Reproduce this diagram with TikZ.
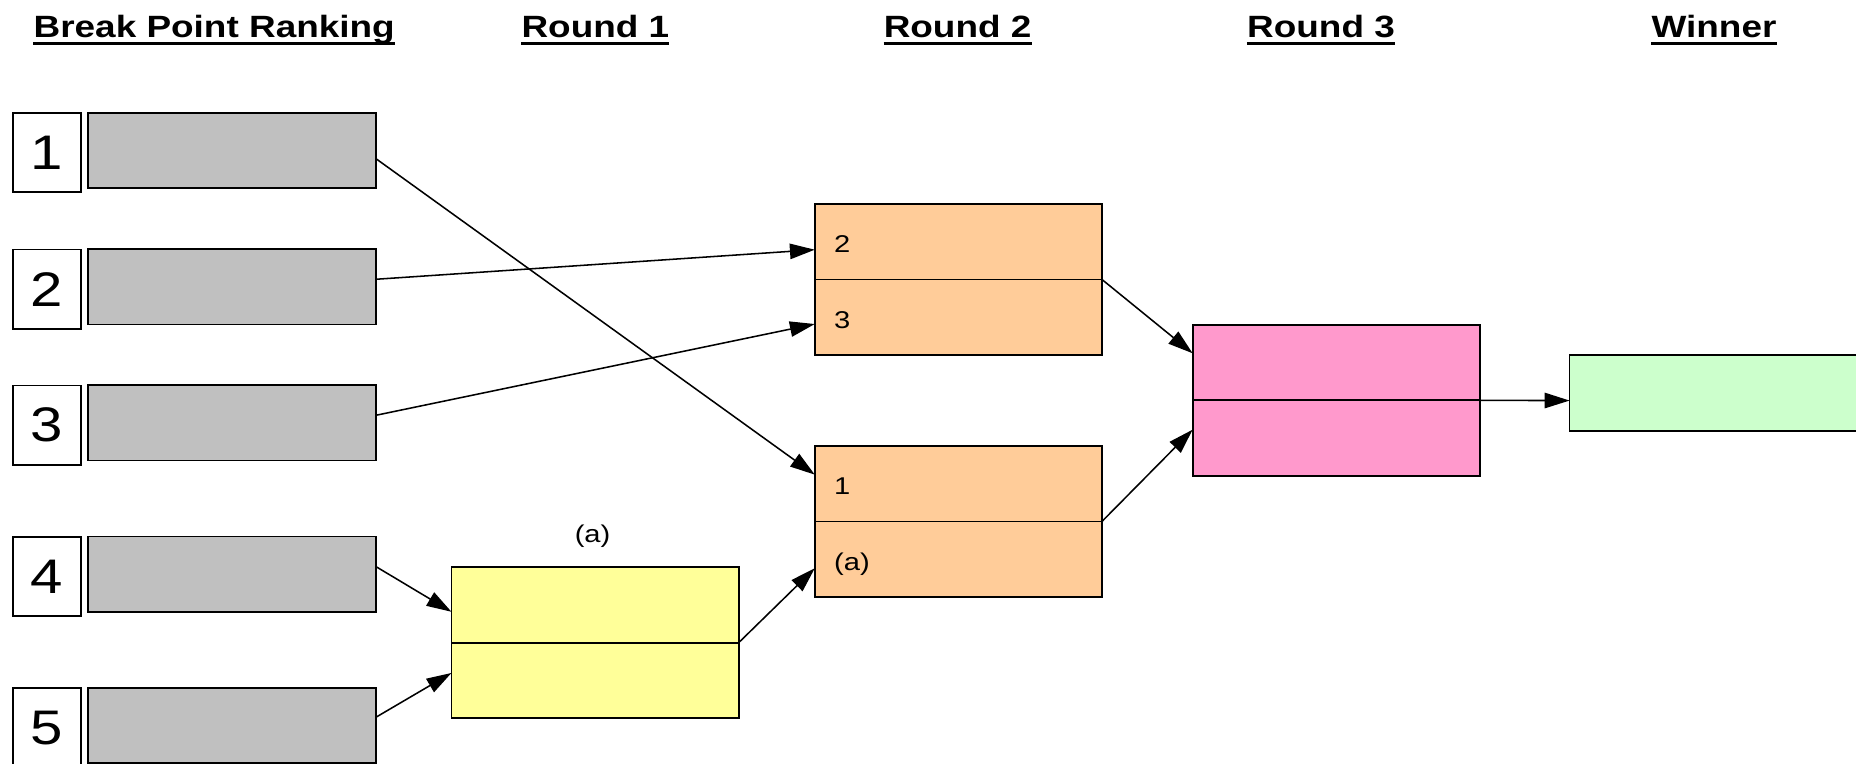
\documentclass[tikz,border=0pt]{standalone}
\usepackage{fontspec}
\setmainfont{Liberation Sans}[FakeStretch=1.2]
\usetikzlibrary{arrows.meta,calc}
\definecolor{grayfill}{HTML}{C0C0C0}
\definecolor{yellowfill}{HTML}{FFFF99}
\definecolor{orangefill}{HTML}{FFCC99}
\definecolor{pinkfill}{HTML}{FF99CC}
\definecolor{greenfill}{HTML}{CCFFCC}
\begin{document}
\begin{tikzpicture}[x=1pt,y=-1pt,
  box/.style={draw=black, line width=1.5pt, inner sep=0pt, outer sep=0pt, rectangle},
  graybox/.style={box, fill=grayfill, minimum width=243.1pt, minimum height=63.8pt},
  numbox/.style={box, fill=white, minimum width=57.7pt, minimum height=67pt, font=\fontsize{41}{45}\selectfont},
  pairbox/.style={box, minimum width=242.6pt, minimum height=127.6pt},
  title/.style={inner sep=0pt, anchor=base, font=\fontsize{26}{30}\selectfont\bfseries},
  slot/.style={inner sep=0pt, anchor=base west, font=\fontsize{20.5}{24}\selectfont},
  arrow/.style={-{Triangle[length=21pt,width=13pt]}, line width=1.3pt},
  uline/.style={line width=3pt}
]
\useasboundingbox (0,0) rectangle (1568,645.4);

% titles
\node[title] (t0) at (181,31.5) {Break Point Ranking};
\node[title] (t1) at (503,31.5) {Round 1};
\node[title] (t2) at (809,31.5) {Round 2};
\node[title] (t3) at (1116,31.5) {Round 3};
\node[title] (t4) at (1448,31.5) {Winner};
\foreach \t in {t0,t1,t2,t3,t4}
  \draw[uline] ($(\t.base west)+(0,5.4)$) -- ($(\t.base east)+(0,5.4)$);

% ranking rows
\foreach \i/\nc/\gc in {1/129/127.1, 2/244.2/242.3, 3/359.1/357.2, 4/487/485.1, 5/614.8/612.9}{
  \node[numbox] (n\i) at (39.55,\nc) {\i};
  \node[graybox] (g\i) at (196.15,\gc) {};
}

% round boxes
\node[pairbox, fill=yellowfill] (y) at (502.7,543) {};
\node[pairbox, fill=orangefill] (ot) at (809.65,236.1) {};
\node[pairbox, fill=orangefill] (ob) at (809.65,440.55) {};
\node[pairbox, fill=pinkfill] (p) at (1128.85,338.25) {};
\node[box, fill=greenfill, minimum width=246pt, minimum height=64pt] (w) at (1449,332) {};
\foreach \b in {y,ot,ob,p}
  \draw[line width=1.5pt] (\b.west) -- (\b.east);

% labels
\node[inner sep=0pt, anchor=base, font=\fontsize{20.5}{24}\selectfont] (la) at (500.6,458.7) {(a)};
\node[slot] (s2) at (704.5,213.5) {2};
\node[slot] (s3) at (704.5,277.4) {3};
\node[slot] (s1) at (704.5,418.1) {1};
\node[slot] (sa) at (704.5,481.7) {(a)};

% connectors
\draw[arrow] ($(g1.north east)!0.61!(g1.south east)$) -- ($(ob.north west)!0.19!(ob.south west)$);
\draw[arrow] ($(g2.north east)!0.40!(g2.south east)$) -- ($(ot.north west)!0.303!(ot.south west)$);
\draw[arrow] ($(g3.north east)!0.40!(g3.south east)$) -- ($(ot.north west)!0.795!(ot.south west)$);
\draw[arrow] ($(g4.north east)!0.40!(g4.south east)$) -- ($(y.north west)!0.295!(y.south west)$);
\draw[arrow] ($(g5.north east)!0.39!(g5.south east)$) -- ($(y.north west)!0.70!(y.south west)$);
\draw[arrow] (y.east) -- ($(ob.north west)!0.81!(ob.south west)$);
\draw[arrow] (ot.east) -- ($(p.north west)!0.188!(p.south west)$);
\draw[arrow] (ob.east) -- ($(p.north west)!0.694!(p.south west)$);
\draw[arrow] (p.east) -- ($(w.north west)!0.60!(w.south west)$);
\end{tikzpicture}
\end{document}
